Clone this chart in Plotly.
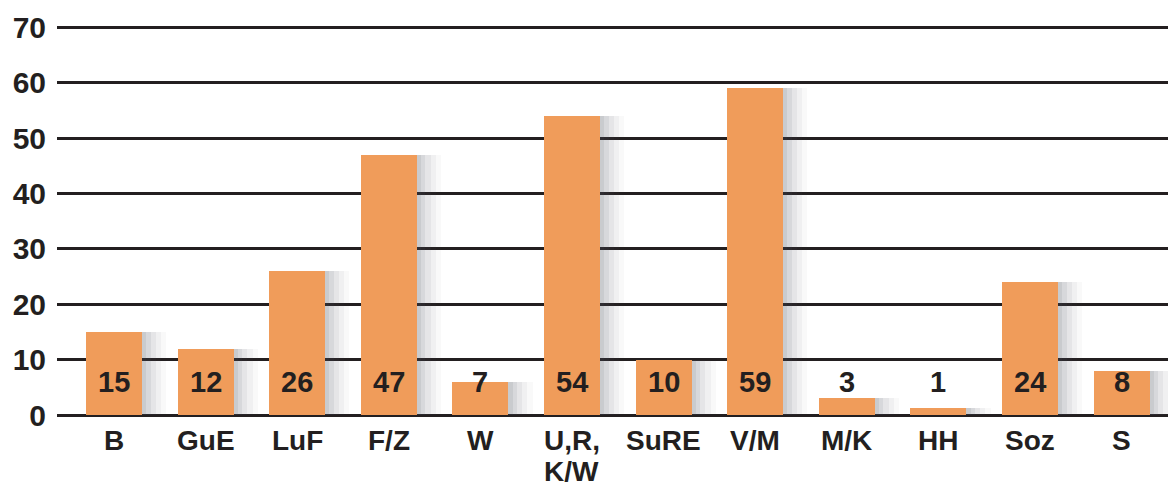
import plotly.graph_objects as go

categories = ["B", "GuE", "LuF", "F/Z", "W", "U,R,\nK/W", "SuRE", "V/M", "M/K", "HH", "Soz", "S"]
values = [15, 12, 26, 47, 6, 54, 10, 59, 3, 1.3, 24, 8]
labels = ["15", "12", "26", "47", "7", "54", "10", "59", "3", "1", "24", "8"]
yticks = [0, 10, 20, 30, 40, 50, 60, 70]

FONT = "Liberation Sans, Arial, sans-serif"
TXT = "#231f20"
BAR = "#F09C5A"

x = list(range(len(categories)))
fig = go.Figure()

# soft drop shadow layers
for dx, op in [(0.14, 0.035), (0.11, 0.05), (0.08, 0.07), (0.05, 0.09), (0.025, 0.10)]:
    fig.add_trace(go.Bar(
        x=x, y=values, width=0.61 + dx, offset=-0.305 + dx * 0.9,
        marker=dict(color=f"rgba(80,85,95,{op})", line=dict(width=0)),
        hoverinfo="skip", showlegend=False,
    ))

fig.add_trace(go.Bar(
    x=x, y=values, width=0.61,
    marker=dict(color=BAR, line=dict(width=0)),
    showlegend=False,
))

for xi, lab in zip(x, labels):
    fig.add_annotation(x=xi, y=5.9, text=f"<b>{lab}</b>", showarrow=False,
                       font=dict(family=FONT, size=29, color=TXT),
                       xanchor="center", yanchor="middle")

# category labels (multi-line with tight line spacing)
for xi, cat in zip(x, categories):
    for k, line in enumerate(cat.split("\n")):
        fig.add_annotation(x=xi, xref="x", y=0, yref="paper",
                           yshift=-25 - 31 * k, text=f"<b>{line}</b>",
                           showarrow=False, xanchor="center", yanchor="middle",
                           font=dict(family=FONT, size=28, color=TXT))

# page body has an 8px margin, so the figure is sized to fit the window
fig.update_layout(
    width=1168, height=485,
    margin=dict(l=49, r=0, t=13.5, b=78, autoexpand=False),
    plot_bgcolor="white", paper_bgcolor="white",
    barmode="overlay",
    bargap=0,
    xaxis=dict(
        range=[-0.622, 11.594],
        showticklabels=False,
        showgrid=False, zeroline=False, showline=False, ticks="",
    ),
    yaxis=dict(
        range=[0, 71],
        tickmode="array", tickvals=yticks,
        ticktext=[f"<b>{v}</b>" for v in yticks],
        tickfont=dict(family=FONT, size=30, color=TXT),
        showgrid=True, gridcolor=TXT, gridwidth=2.5,
        zeroline=True, zerolinecolor=TXT, zerolinewidth=2.5,
        showline=False, ticks="", ticklabelstandoff=10,
        automargin=False,
        layer="below traces",
    ),
)

fig.write_html("out.html")
